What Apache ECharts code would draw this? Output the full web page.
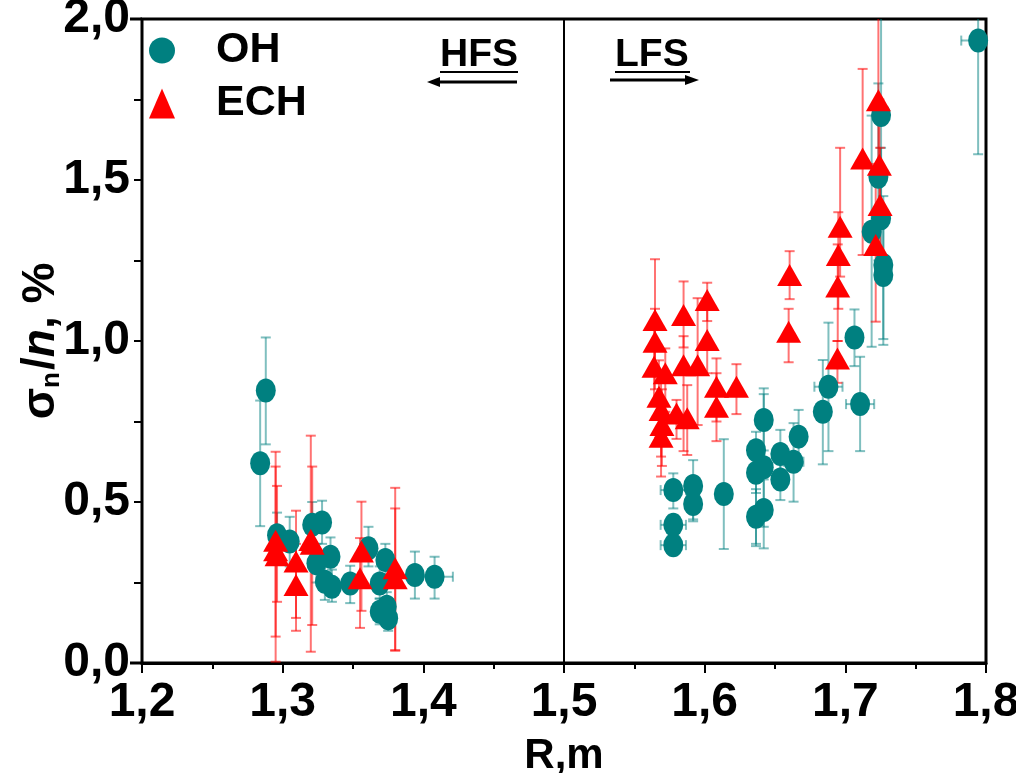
<!DOCTYPE html>
<html>
<head>
<meta charset="utf-8">
<script src="https://cdn.jsdelivr.net/npm/echarts@6/dist/echarts.min.js"></script>
<style>
  html, body { margin: 0; padding: 0; background: #fff; }
  #chart { width: 1016px; height: 773px; }
</style>
</head>
<body>
<div id="chart"></div>
<script>
// OH points: R, value, lower / upper end of the error bar, half width of the R error bar
const ohR    = [1.284, 1.288, 1.296, 1.305, 1.321, 1.328, 1.324, 1.334, 1.330, 1.335, 1.348, 1.361, 1.373, 1.369, 1.369, 1.375, 1.374, 1.394, 1.408,
                1.5777, 1.5777, 1.5777, 1.5918, 1.5918, 1.6136, 1.6365, 1.6365, 1.642, 1.642, 1.6365, 1.642, 1.6538, 1.6538, 1.6632, 1.6668,
                1.688, 1.684, 1.7065, 1.7105, 1.7187, 1.727, 1.727, 1.7254, 1.7235, 1.7254, 1.7944]
const ohVal  = [0.62, 0.846, 0.397, 0.377, 0.429, 0.436, 0.31, 0.33, 0.252, 0.237, 0.247, 0.356, 0.32, 0.247, 0.159, 0.139, 0.175, 0.273, 0.268,
                0.537, 0.429, 0.366, 0.55, 0.494, 0.525, 0.661, 0.591, 0.755, 0.608, 0.454, 0.475, 0.649, 0.57, 0.625, 0.703,
                0.858, 0.78, 1.011, 0.804, 1.339, 1.236, 1.205, 1.702, 1.51, 1.381, 1.933]
const ohLow  = [0.425, 0.679, 0.33, 0.30, 0.36, 0.37, 0.25, 0.27, 0.196, 0.19, 0.186, 0.30, 0.27, 0.2, 0.12, 0.10, 0.13, 0.20, 0.20,
                0.48, 0.40, 0.34, 0.446, 0.44, 0.354, 0.528, 0.363, 0.66, 0.423, 0.37, 0.356, 0.58, 0.506, 0.501, 0.62,
                0.658, 0.617, 0.922, 0.658, 0.982, 1.006, 0.988, 1.4, 1.25, 1.2, 1.58]
const ohHigh = [0.815, 1.011, 0.467, 0.454, 0.50, 0.504, 0.37, 0.39, 0.31, 0.29, 0.302, 0.423, 0.37, 0.3, 0.2, 0.18, 0.22, 0.346, 0.33,
                0.589, 0.46, 0.39, 0.63, 0.55, 0.695, 0.718, 0.67, 0.853, 0.835, 0.54, 0.57, 0.724, 0.62, 0.745, 0.786,
                1.057, 0.941, 1.098, 0.951, 1.7, 1.45, 1.4, 2.1, 1.8, 1.6, 2.1]
const ohXErr = [0, 0, 0, 0, 0, 0, 0, 0, 0, 0, 0, 0, 0, 0, 0, 0.005, 0, 0, 0.013,
                0.009, 0.009, 0.009, 0, 0, 0, 0, 0, 0, 0, 0, 0, 0, 0, 0.007, 0,
                0.01, 0, 0, 0.01, 0, 0, 0, 0, 0, 0, 0.012]

// ECH points
const echR    = [1.295, 1.295, 1.296, 1.3095, 1.3095, 1.320, 1.321, 1.356, 1.355, 1.380, 1.380,
                 1.5647, 1.5647, 1.564, 1.572, 1.5675, 1.569, 1.569, 1.5696, 1.585, 1.585, 1.580, 1.5876, 1.595,
                 1.6018, 1.6018, 1.6084, 1.6084, 1.6226, 1.6604, 1.6597, 1.6963, 1.695, 1.6946, 1.6944,
                 1.7247, 1.7216, 1.7235, 1.7123, 1.7242]
const echVal  = [0.38, 0.35, 0.335, 0.315, 0.242, 0.382, 0.37, 0.346, 0.263, 0.294, 0.263,
                 1.065, 0.998, 0.92, 0.90, 0.827, 0.786, 0.703, 0.739, 1.081, 0.925, 0.775, 0.76, 0.925,
                 1.127, 1.003, 0.858, 0.796, 0.858, 1.205, 1.029, 1.355, 1.267, 1.169, 0.946,
                 1.422, 1.298, 1.748, 1.567, 1.547]
const echLow  = [0.004, 0.082, 0.19, 0.10, 0.14, 0.035, 0.118, 0.162, 0.109, 0.038, 0.04,
                 0.9, 0.85, 0.8, 0.78, 0.7, 0.641, 0.579, 0.612, 0.98, 0.658, 0.696, 0.646, 0.739,
                 1.062, 0.9, 0.75, 0.689, 0.773, 1.13, 0.934, 1.2, 1.1, 1.0, 0.87,
                 1.2, 1.06, 1.5, 1.267, 1.35]
const echHigh = [0.656, 0.61, 0.55, 0.473, 0.37, 0.706, 0.61, 0.501, 0.388, 0.544, 0.48,
                 1.254, 1.1, 1.05, 0.977, 0.94, 0.9, 0.82, 0.85, 1.185, 1.015, 0.817, 0.863, 1.133,
                 1.181, 1.1, 0.946, 0.9, 0.928, 1.279, 1.1, 1.6, 1.4, 1.3, 1.0,
                 1.6, 1.55, 2.1, 1.845, 1.75]

const xTicks = { min: 1.2, max: 1.8, step: 0.1 }
const yTicks = { min: 0, max: 2.0, step: 0.5 }
const splitR = 1.5 // HFS / LFS boundary

const FONT = "'Liberation Sans Narrow', 'Arial Narrow', 'Liberation Sans', Arial, sans-serif"
const TEAL = '#008080'
const RED = '#ff0000'

const ohData = ohR.map((r, i) => [r, ohVal[i]])
const echData = echR.map((r, i) => [r, echVal[i]])
const ohErr = ohR.map((r, i) => [r, ohVal[i], ohLow[i], ohHigh[i], ohXErr[i]])
const echErr = echR.map((r, i) => [r, echVal[i], echLow[i], echHigh[i], 0])

// error bars: vertical bar with caps, optional horizontal bar
function errorBars (color) {
  return function (params, api) {
    const x = api.value(0)
    const y = api.value(1)
    const lo = api.coord([x, api.value(2)])
    const hi = api.coord([x, api.value(3)])
    const xe = api.value(4)
    const style = { stroke: color, lineWidth: 2 }
    const cap = 5
    const children = [
      { type: 'line', shape: { x1: lo[0], y1: lo[1], x2: hi[0], y2: hi[1] }, style },
      { type: 'line', shape: { x1: lo[0] - cap, y1: lo[1], x2: lo[0] + cap, y2: lo[1] }, style },
      { type: 'line', shape: { x1: hi[0] - cap, y1: hi[1], x2: hi[0] + cap, y2: hi[1] }, style }
    ]
    if (xe > 0) {
      const l = api.coord([x - xe, y])
      const r = api.coord([x + xe, y])
      children.push(
        { type: 'line', shape: { x1: l[0], y1: l[1], x2: r[0], y2: r[1] }, style },
        { type: 'line', shape: { x1: l[0], y1: l[1] - cap, x2: l[0], y2: l[1] + cap }, style },
        { type: 'line', shape: { x1: r[0], y1: r[1] - cap, x2: r[0], y2: r[1] + cap }, style }
      )
    }
    return { type: 'group', children }
  }
}

const comma = v => v.toFixed(1).replace('.', ',')

const chart = echarts.init(document.getElementById('chart'))
chart.setOption({
  animation: false,
  backgroundColor: '#fff',
  grid: {
    left: 142, right: 30, top: 19, bottom: 110,
    outerBoundsMode: 'none',
    show: true, borderColor: '#000', borderWidth: 3
  },
  legend: {
    orient: 'vertical',
    left: 144,
    top: 24,
    itemWidth: 26,
    itemHeight: 30,
    itemGap: 10,
    data: ['OH', 'ECH'],
    textStyle: { fontFamily: FONT, fontWeight: 'bold', fontSize: 43, color: '#000', padding: [0, 0, 0, 36] }
  },
  xAxis: {
    type: 'value',
    min: xTicks.min,
    max: xTicks.max,
    interval: xTicks.step,
    name: 'R,m',
    nameLocation: 'middle',
    nameGap: 72,
    nameMoveOverlap: false,
    nameTextStyle: { fontFamily: FONT, fontWeight: 'bold', fontSize: 42, color: '#000' },
    axisLine: { lineStyle: { color: '#000', width: 3 } },
    axisTick: { length: 10, lineStyle: { color: '#000', width: 2 } },
    minorTick: { show: true, splitNumber: 2, length: 6, lineStyle: { color: '#000', width: 2 } },
    splitLine: { show: false },
    axisLabel: { margin: 16, fontFamily: FONT, fontWeight: 'bold', fontSize: 48, color: '#000', formatter: comma }
  },
  yAxis: {
    type: 'value',
    min: yTicks.min,
    max: yTicks.max,
    interval: yTicks.step,
    name: '{s|σ}{sub|n}{s|/}{i|n}{s|, %}',
    nameLocation: 'middle',
    nameRotate: 90,
    nameGap: 77,
    nameMoveOverlap: false,
    nameTextStyle: {
      rich: {
        s: { fontFamily: FONT, fontWeight: 'bold', fontSize: 46, color: '#000' },
        i: { fontFamily: FONT, fontWeight: 'bold', fontStyle: 'italic', fontSize: 46, color: '#000' },
        sub: { fontFamily: FONT, fontWeight: 'bold', fontSize: 26, color: '#000', padding: [22, 2, 0, 0] }
      }
    },
    axisLine: { lineStyle: { color: '#000', width: 2 } },
    axisTick: { length: 8, lineStyle: { color: '#000', width: 2 } },
    minorTick: { show: true, splitNumber: 2, length: 8, lineStyle: { color: '#000', width: 2 } },
    splitLine: { show: false },
    axisLabel: { margin: 12, fontFamily: FONT, fontWeight: 'bold', fontSize: 48, color: '#000', formatter: comma }
  },
  series: [
    {
      name: 'OH err',
      type: 'custom',
      clip: true,
      renderItem: errorBars('rgba(0,128,128,0.5)'),
      data: ohErr,
      z: 1
    },
    {
      name: 'ECH err',
      type: 'custom',
      clip: true,
      renderItem: errorBars('rgba(255,0,0,0.55)'),
      data: echErr,
      z: 1
    },
    {
      name: 'OH',
      type: 'scatter',
      symbol: 'circle',
      symbolSize: [20, 24],
      itemStyle: { color: TEAL, opacity: 1 },
      data: ohData,
      z: 3,
      markLine: {
        silent: true,
        symbol: 'none',
        label: { show: false },
        lineStyle: { color: '#000', width: 2, type: 'solid' },
        data: [{ xAxis: splitR }]
      }
    },
    {
      name: 'ECH',
      type: 'scatter',
      symbol: 'triangle',
      symbolSize: [25, 22],
      itemStyle: { color: RED, opacity: 1 },
      data: echData,
      z: 4
    }
  ],
  graphic: [
    // frame overhang on the left
    { type: 'line', shape: { x1: 130, y1: 19, x2: 142, y2: 19 }, style: { stroke: '#000', lineWidth: 3 } },
    { type: 'line', shape: { x1: 130, y1: 663, x2: 142, y2: 663 }, style: { stroke: '#000', lineWidth: 3 } },
    // HFS label with arrow to the left
    { type: 'text', style: { x: 440, y: 55, text: 'HFS', font: 'bold 39px ' + FONT, fill: '#000', verticalAlign: 'middle' } },
    { type: 'line', shape: { x1: 440, y1: 72, x2: 518, y2: 72 }, style: { stroke: '#000', lineWidth: 2 } },
    { type: 'line', shape: { x1: 436, y1: 82, x2: 517, y2: 82 }, style: { stroke: '#000', lineWidth: 3 } },
    { type: 'polygon', shape: { points: [[427, 82], [440, 77], [440, 87]] }, style: { fill: '#000' } },
    // LFS label with arrow to the right
    { type: 'text', style: { x: 615, y: 55, text: 'LFS', font: 'bold 39px ' + FONT, fill: '#000', verticalAlign: 'middle' } },
    { type: 'line', shape: { x1: 615, y1: 72, x2: 690, y2: 72 }, style: { stroke: '#000', lineWidth: 2 } },
    { type: 'line', shape: { x1: 610, y1: 80, x2: 690, y2: 80 }, style: { stroke: '#000', lineWidth: 3 } },
    { type: 'polygon', shape: { points: [[699, 80], [685, 75], [685, 85]] }, style: { fill: '#000' } }
  ]
})
</script>
</body>
</html>
